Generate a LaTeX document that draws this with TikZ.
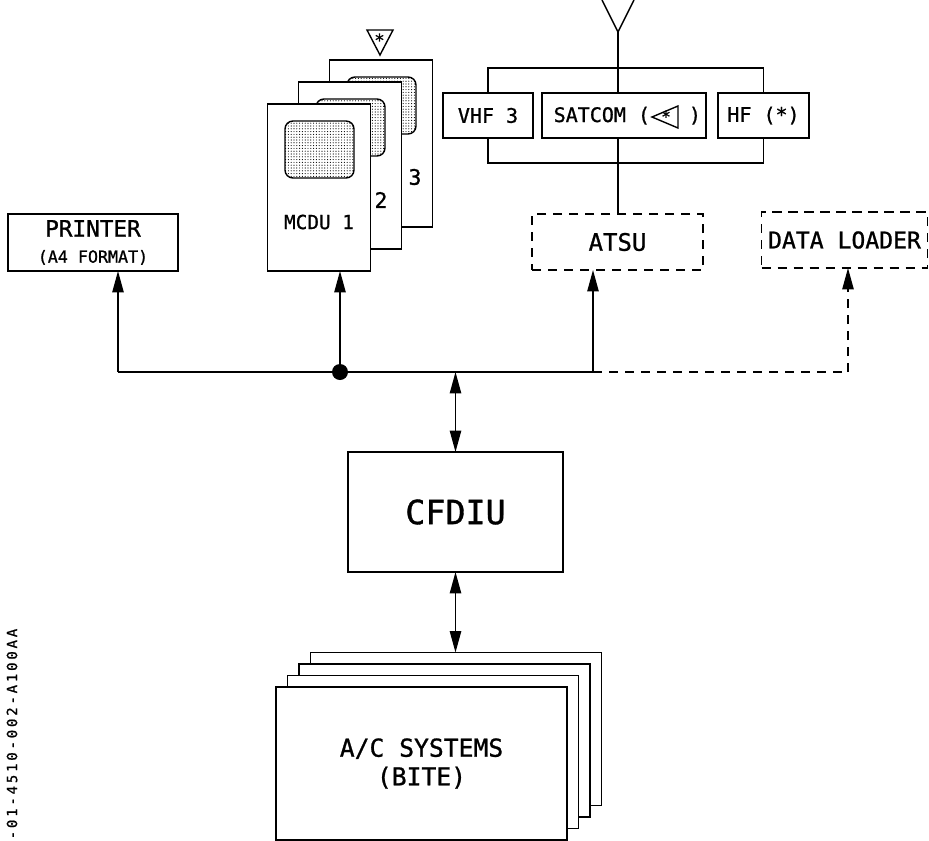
\documentclass[tikz,border=0pt]{standalone}
\usepackage{fontspec}
\setmainfont[FakeBold=1]{DejaVu Sans Mono}
\newfontfamily\idfont[LetterSpace=20,FakeBold=1]{DejaVu Sans Mono}
\usetikzlibrary{arrows.meta,patterns}
% fine stipple used for the MCDU screens
\pgfdeclarepatternformonly{finedots}{\pgfqpoint{-0.6pt}{-0.6pt}}{\pgfqpoint{0.6pt}{0.6pt}}{\pgfqpoint{2.1pt}{2.1pt}}{%
  \pgfpathcircle{\pgfqpoint{0pt}{0pt}}{0.42pt}\pgfusepath{fill}}
\newcommand\fsz[1]{\fontsize{#1pt}{#1pt}\selectfont}
\begin{document}
\begin{tikzpicture}[x=0.75pt,y=-0.75pt,line width=1.05pt,
  box/.style={draw,fill=white,inner sep=0pt,outer sep=0pt},
  dbox/.style={box,dash pattern=on 7pt off 5pt},
  dashline/.style={dash pattern=on 7pt off 5pt},
  mcdu/.style={box,minimum width=77.25pt,minimum height=125.25pt},
  screen/.style={draw,rounded corners=6pt,inner sep=0pt,outer sep=0pt,
    minimum width=51.75pt,minimum height=42.75pt,preaction={fill=white},pattern=finedots},
  card/.style={box,minimum width=218.25pt,minimum height=114.75pt},
  radio/.style={box,minimum height=33.75pt,font=\fsz{15}},
  tip/.tip={Triangle[length=16pt,width=8.5pt]},
  arr/.style={-tip},
  darr/.style={tip-tip},
  lbl/.style={inner sep=0pt}
]
% page area
\fill[white] (0,0) rectangle (929,840);
\useasboundingbox (0,0) rectangle (929,840);

% printer
\node[box,minimum width=127.5pt,minimum height=42.75pt,align=center,font=\fsz{12.5}] (printer) at (93,242.5)
  {{\fsz{17}PRINTER}\\[7pt]{(A4 FORMAT)}};

% MCDU stack with screens
\node[mcdu] (m3) at (381,143.5) {};
\node[screen] (s3) at (381.5,105.5) {};
\node[mcdu] (m2) at (350,165.5) {};
\node[screen] (s2) at (350.5,127.5) {};
\node[mcdu] (m1) at (319,187.5) {};
\node[screen] (s1) at (319.5,149.5) {};
\node[lbl,font=\fsz{14.5}] (m1lbl) at (319,222) {MCDU 1};
\node[lbl,font=\fsz{16}] (m2lbl) at (381,200) {2};
\node[lbl,font=\fsz{16}] (m3lbl) at (415,177) {3};
% option marker above MCDU 3
\coordinate (tA) at (367,30);
\coordinate (tB) at (393,30);
\coordinate (tC) at (380,55);
\draw (tA) -- (tB) -- (tC) -- cycle;
\node[lbl,font=\fsz{13}] (tstar) at (379.5,40) {*};

% radio equipment
\node[radio,minimum width=67.5pt] (vhf) at (488,115.5) {VHF 3};
\node[radio,minimum width=123pt] (satcom) at (624,115.5) {};
\node[radio,minimum width=68.25pt] (hf) at (763.5,115.5) {HF (*)};
\node[lbl,anchor=base west,font=\fsz{15}] (sattext) at (553,122) {SATCOM (};
\coordinate (sA) at (678,106);
\coordinate (sB) at (652,117);
\coordinate (sC) at (678,128);
\draw (sA) -- (sB) -- (sC) -- cycle;
\node[lbl,font=\fsz{12}] (sstar) at (666,116.5) {*};
\node[lbl,anchor=base,font=\fsz{15}] (satclose) at (695,122) {)};

% antenna and radio bus
\coordinate (ant) at (618,32);
\coordinate (antL) at (602,0);
\coordinate (antR) at (634,0);
\draw (antL) -- (ant) -- (antR);
\coordinate (topbar) at (618,68);
\coordinate (botbar) at (618,163);
\draw (ant) -- (ant |- satcom.north);
\draw (vhf.north) |- (topbar) -| (hf.north);
\draw (vhf.south) |- (botbar) -| (hf.south);

% ATSU and data loader
\node[dbox,minimum width=128.25pt,minimum height=42pt,font=\fsz{18}] (atsu) at (617.5,242) {ATSU};
\node[dbox,minimum width=124.5pt,minimum height=42pt,font=\fsz{17.3}] (dl) at (844.5,240) {DATA LOADER};
\draw (ant |- satcom.south) -- (ant |- atsu.north);

% CFDIU
\node[box,minimum width=161.25pt,minimum height=90pt,font=\fsz{25}] (cfdiu) at (455.5,512) {CFDIU};

% aircraft systems stack
\node[card] (c4) at (456,729) {};
\node[card] (c3) at (444.5,740.5) {};
\node[card] (c2) at (433,752) {};
\node[card,align=center,font=\fsz{18.5}] (c1) at (421.5,763.5) {A/C SYSTEMS\\[3pt](BITE)};

% data bus
\coordinate (busL) at (118,372);
\coordinate (busA) at (593,372);
\coordinate (busC) at (455.5,372);
\coordinate (busD) at (848,372);
\draw (busL) -- (busA);
\draw[dashline] (busA) -- (busD);
\node[circle,fill,inner sep=0pt,minimum size=12pt] (jn) at (340,372) {};
\draw[arr] (busL) -- (busL |- printer.south);
\draw[arr] (jn.center) -- (jn.center |- m1.south);
\draw[arr] (busA) -- (busA |- atsu.south);
\draw[arr,dashline] (busD) -- (busD |- dl.south);
\draw[darr] (busC) -- (cfdiu.north);
\draw[darr] (cfdiu.south) -- (cfdiu.south |- c4.north);

% drawing reference
\node[lbl,rotate=90,font=\idfont\fsz{10.5}] (docid) at (12,734) {-01-4510-002-A100AA};
\end{tikzpicture}
\end{document}
